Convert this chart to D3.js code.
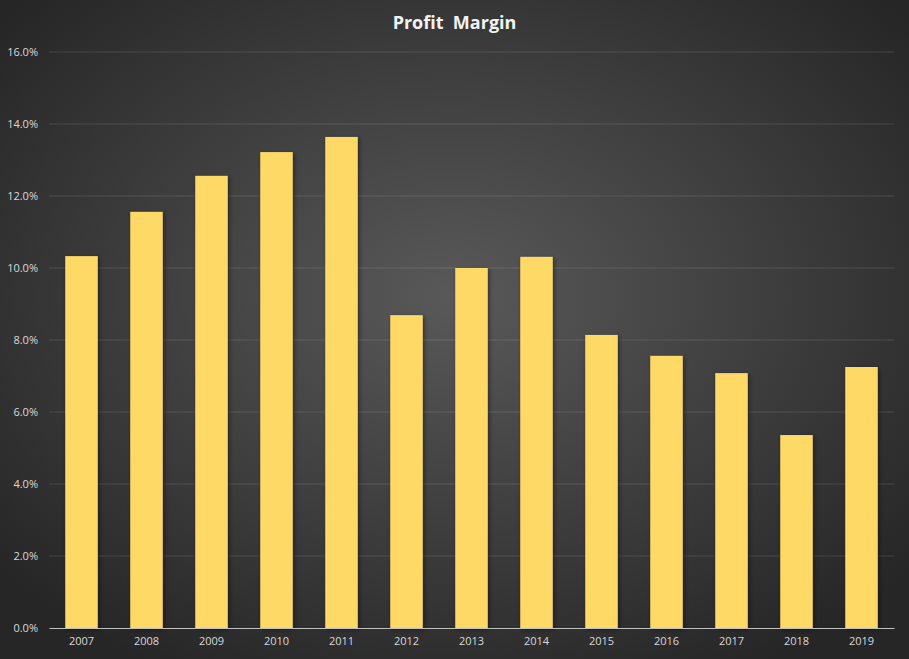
<!DOCTYPE html>
<html>
<head>
<meta charset="utf-8">
<script src="https://cdn.jsdelivr.net/npm/d3@7"></script>
<style>
  body { margin: 0; background: #262626; }
  svg text { font-family: "Open Sans", "Liberation Sans", sans-serif; }
</style>
</head>
<body>
<div id="chart"></div>
<script>
// Chart data
const years = ["2007", "2008", "2009", "2010", "2011", "2012", "2013",
               "2014", "2015", "2016", "2017", "2018", "2019"];
const margins = [10.33, 11.56, 12.56, 13.22, 13.64, 8.69, 10.0,
                 10.31, 8.14, 7.56, 7.08, 5.36, 7.25];
const yTicks = [0, 2, 4, 6, 8, 10, 12, 14, 16];
const chartTitle = "Profit  Margin";

const width = 909, height = 659;
const margin = { top: 52, right: 15, bottom: 31, left: 49 };
const innerW = width - margin.left - margin.right;
const innerH = height - margin.top - margin.bottom;

const svg = d3.select("#chart")
    .append("svg")
    .attr("width", width)
    .attr("height", height);

const defs = svg.append("defs");
const bg = defs.append("radialGradient")
    .attr("id", "bg")
    .attr("cx", "50%").attr("cy", "45%")
    .attr("r", "65%");
bg.append("stop").attr("offset", "0%").attr("stop-color", "#595959");
bg.append("stop").attr("offset", "100%").attr("stop-color", "#262626");

const shadow = defs.append("filter")
    .attr("id", "shadow")
    .attr("x", "-30%").attr("y", "-10%")
    .attr("width", "160%").attr("height", "130%");
shadow.append("feDropShadow")
    .attr("dx", 1.5).attr("dy", 1.5)
    .attr("stdDeviation", 2)
    .attr("flood-color", "#000")
    .attr("flood-opacity", 0.45);

svg.append("rect")
    .attr("width", width)
    .attr("height", height)
    .attr("fill", "url(#bg)");

// title
svg.append("text")
    .attr("x", width / 2)
    .attr("y", 29)
    .attr("text-anchor", "middle")
    .attr("fill", "#f2f2f2")
    .style("font-size", "18px")
    .style("font-weight", "bold")
    .style("white-space", "pre")
    .text(chartTitle);

const g = svg.append("g")
    .attr("transform", `translate(${margin.left}, ${margin.top})`);

// scales
const x = d3.scaleBand()
    .domain(years)
    .range([0, innerW])
    .paddingInner(0.5)
    .paddingOuter(0.25);

const y = d3.scaleLinear()
    .domain([0, 16])
    .range([innerH, 0]);

// gridlines
g.append("g")
    .selectAll("line")
    .data(yTicks.filter(d => d > 0))
    .enter()
    .append("line")
    .attr("x1", 0)
    .attr("x2", innerW)
    .attr("y1", d => y(d))
    .attr("y2", d => y(d))
    .attr("stroke", "#ffffff")
    .attr("stroke-opacity", 0.12)
    .attr("stroke-width", 1);

// y axis
const yAxis = d3.axisLeft(y)
    .tickValues(yTicks)
    .tickSize(0)
    .tickPadding(11)
    .tickFormat(d => d.toFixed(1) + "%");

g.append("g")
    .call(yAxis)
    .call(a => a.select(".domain").remove())
    .selectAll("text")
    .attr("fill", "#d9d9d9")
    .style("font-size", "11px");

// bars
g.selectAll("rect.bar")
    .data(margins)
    .enter()
    .append("rect")
    .attr("class", "bar")
    .attr("x", (d, i) => x(years[i]))
    .attr("y", d => y(d))
    .attr("width", x.bandwidth())
    .attr("height", d => y(0) - y(d))
    .attr("fill", "#ffd966")
    .attr("filter", "url(#shadow)");

// x axis
const xAxis = d3.axisBottom(x).tickSize(0).tickPadding(9);
g.append("g")
    .attr("transform", `translate(0, ${innerH})`)
    .call(xAxis)
    .call(a => a.select(".domain").attr("stroke", "#bfbfbf").attr("stroke-width", 1.2))
    .selectAll("text")
    .attr("fill", "#d9d9d9")
    .style("font-size", "11px");
</script>
</body>
</html>
